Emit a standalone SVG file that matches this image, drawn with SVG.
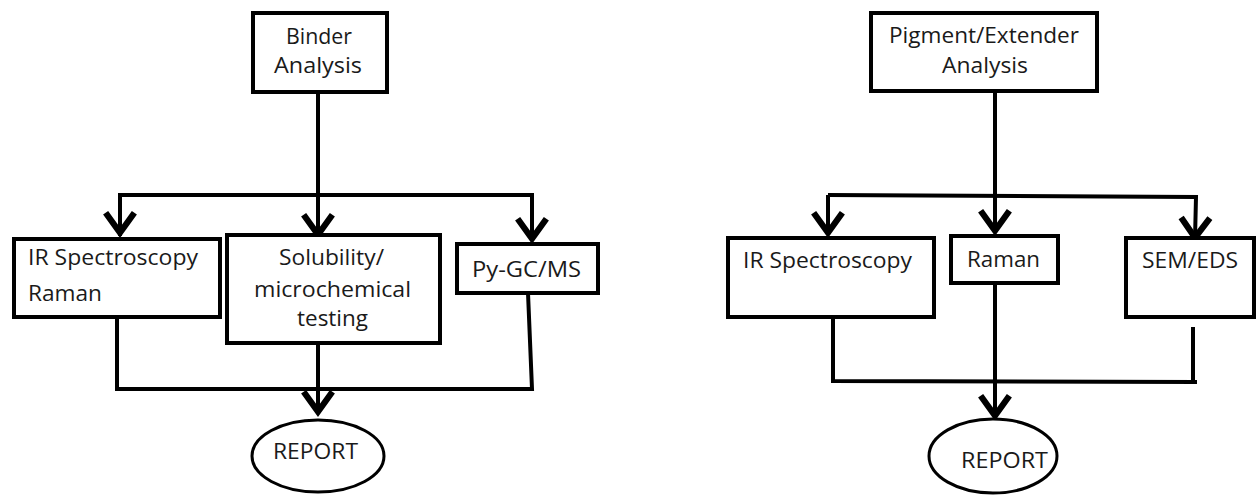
<svg xmlns="http://www.w3.org/2000/svg" width="1257" height="495" viewBox="0 0 1257 495">
  <style>
    .box { fill: #ffffff; stroke: #000000; stroke-width: 4; }
    .oval { fill: #ffffff; stroke: #000000; stroke-width: 3; }
    .wire { fill: none; stroke: #000000; stroke-width: 4; stroke-linejoin: miter; }
    .lbl { font-family: "Open Sans", "Liberation Sans", sans-serif; font-size: 21.5px; fill: #1a1a1a; }
  </style>
  <defs>
    <marker id="chev" markerUnits="userSpaceOnUse" markerWidth="40" markerHeight="40" viewBox="-24 -16 28 32" refX="1" refY="0" orient="auto">
      <path d="M -16 -11.5 L 0 0 L -16 11.5" fill="none" stroke="#000000" stroke-width="5" stroke-linejoin="miter"/>
    </marker>
  </defs>

  <rect width="1257" height="495" fill="#ffffff"/>

  <!-- connectors -->
  <g id="connectors">
    <!-- binder flow -->
    <line class="wire" x1="318" y1="92" x2="318" y2="236" marker-end="url(#chev)"/>
    <polyline class="wire" points="120,236 120,195 532,195 532,240" marker-end="url(#chev)"/>
    <line class="wire" x1="120" y1="220" x2="120" y2="234" marker-end="url(#chev)"/>
    <polyline class="wire" points="117,318 117,389 532,389 528,293"/>
    <line class="wire" x1="318" y1="343" x2="318" y2="413" marker-end="url(#chev)"/>

    <!-- pigment / extender flow -->
    <line class="wire" x1="995" y1="91" x2="995" y2="232" marker-end="url(#chev)"/>
    <polyline class="wire" points="828,195 1196,197 1195,239" marker-end="url(#chev)"/>
    <line class="wire" x1="828" y1="195" x2="828" y2="234" marker-end="url(#chev)"/>
    <polyline class="wire" points="833,317 833,381 1197,382"/>
    <line class="wire" x1="1193" y1="327" x2="1193" y2="384"/>
    <line class="wire" x1="995" y1="283" x2="995" y2="417" marker-end="url(#chev)"/>
  </g>

  <!-- binder analysis branch -->
  <g id="binder">
    <rect class="box" x="253" y="13" width="134" height="79"/>
    <text class="lbl" x="286" y="44" textLength="66" lengthAdjust="spacingAndGlyphs">Binder</text>
    <text class="lbl" x="274" y="73" textLength="88" lengthAdjust="spacingAndGlyphs">Analysis</text>
  </g>
  <g id="ir-raman">
    <rect class="box" x="14" y="239" width="206" height="78"/>
    <text class="lbl" x="28" y="265" textLength="170" lengthAdjust="spacingAndGlyphs">IR Spectroscopy</text>
    <text class="lbl" x="28" y="301" textLength="74" lengthAdjust="spacingAndGlyphs">Raman</text>
  </g>
  <g id="solubility">
    <rect class="box" x="227" y="235" width="213" height="108"/>
    <text class="lbl" x="279" y="265" textLength="105" lengthAdjust="spacingAndGlyphs">Solubility/</text>
    <text class="lbl" x="254" y="297" textLength="157" lengthAdjust="spacingAndGlyphs">microchemical</text>
    <text class="lbl" x="297" y="326" textLength="71" lengthAdjust="spacingAndGlyphs">testing</text>
  </g>
  <g id="pygcms">
    <rect class="box" x="457" y="244" width="141" height="49"/>
    <text class="lbl" x="472" y="277" textLength="109" lengthAdjust="spacingAndGlyphs">Py-GC/MS</text>
  </g>
  <g id="report-binder">
    <ellipse class="oval" cx="318" cy="456" rx="66" ry="36"/>
    <text class="lbl" x="273" y="459" textLength="85" lengthAdjust="spacingAndGlyphs">REPORT</text>
  </g>

  <!-- pigment / extender analysis branch -->
  <g id="pigment">
    <rect class="box" x="871" y="13" width="226" height="78"/>
    <text class="lbl" x="889" y="43" textLength="190" lengthAdjust="spacingAndGlyphs">Pigment/Extender</text>
    <text class="lbl" x="942" y="73" textLength="86" lengthAdjust="spacingAndGlyphs">Analysis</text>
  </g>
  <g id="ir">
    <rect class="box" x="728" y="238" width="206" height="79"/>
    <text class="lbl" x="743" y="268" textLength="169" lengthAdjust="spacingAndGlyphs">IR Spectroscopy</text>
  </g>
  <g id="raman">
    <rect class="box" x="951" y="236" width="107" height="47"/>
    <text class="lbl" x="967" y="267" textLength="73" lengthAdjust="spacingAndGlyphs">Raman</text>
  </g>
  <g id="sem-eds">
    <rect class="box" x="1126" y="238" width="128" height="79"/>
    <text class="lbl" x="1142" y="268" textLength="96" lengthAdjust="spacingAndGlyphs">SEM/EDS</text>
  </g>
  <g id="report-pigment">
    <ellipse class="oval" cx="993" cy="456" rx="64" ry="37"/>
    <text class="lbl" x="961" y="468" textLength="87" lengthAdjust="spacingAndGlyphs">REPORT</text>
  </g>
</svg>
